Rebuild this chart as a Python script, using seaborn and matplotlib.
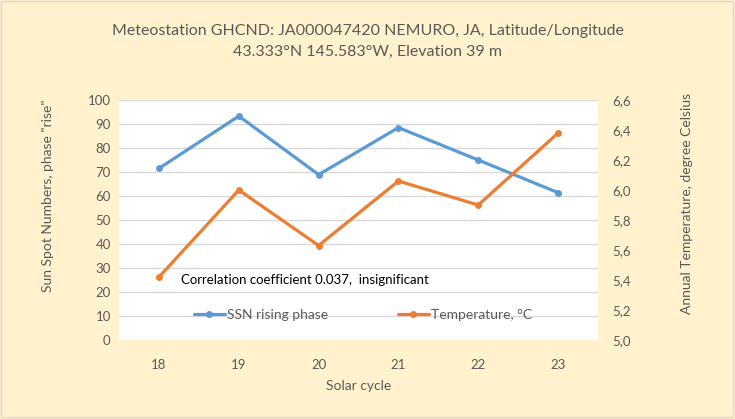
import matplotlib
matplotlib.use('Agg')
import matplotlib.pyplot as plt
import seaborn as sns
import pandas as pd

# Values
cycles = ['18', '19', '20', '21', '22', '23']
ssn_rise = [71.5, 93.3, 68.9, 88.5, 75.0, 61.4]
temperature = [5.42, 6.00, 5.63, 6.06, 5.90, 6.38]
left_ticks = list(range(0, 101, 10))
right_ticks = [5.0, 5.2, 5.4, 5.6, 5.8, 6.0, 6.2, 6.4, 6.6]

df = pd.DataFrame({'cycle': cycles, 'ssn': ssn_rise, 'temp': temperature})

sns.set_style('white')
plt.rcParams['font.family'] = ['Lato', 'DejaVu Sans']

bg = '#FFF2CC'
txt = '#595959'
blue = '#5B9BD5'
orange = '#ED7D31'

fig = plt.figure(figsize=(7.35, 4.19), dpi=100, facecolor=bg)
fig.patches.append(plt.Rectangle((0.001, 0.004), 0.996, 0.994, transform=fig.transFigure,
                                 fill=False, edgecolor='#D9D9D9', linewidth=1))
ax = fig.add_axes([0.162, 0.1885, 0.6516, 0.5728])
ax.set_facecolor('white')

sns.lineplot(data=df, x='cycle', y='ssn', ax=ax, color=blue, linewidth=2.3,
             marker='o', markersize=5, markeredgewidth=0, label='SSN rising phase', legend=False)
ax2 = ax.twinx()
sns.lineplot(data=df, x='cycle', y='temp', ax=ax2, color=orange, linewidth=2.3,
             marker='o', markersize=5, markeredgewidth=0, label='Temperature, °C', legend=False)

ax.set_xlim(-0.5, 5.5)
ax.set_ylim(0, 100)
ax.set_yticks(left_ticks)
ax2.set_ylim(5.0, 6.6)
ax2.set_yticks(right_ticks)
ax2.set_yticklabels([f'{v:.1f}'.replace('.', ',') for v in right_ticks])

ax.yaxis.grid(True, color='#D9D9D9', linewidth=1)
ax.set_axisbelow(True)
for a in (ax, ax2):
    for s in a.spines.values():
        s.set_visible(False)
    a.tick_params(length=0, labelsize=9.5, colors=txt)
ax.tick_params(axis='x', pad=14)
ax.tick_params(axis='y', pad=6)
ax2.tick_params(axis='y', pad=10)

ax.set_xlabel('Solar cycle', fontsize=10, color=txt, labelpad=6)
ax.set_ylabel('Sun Spot Numbers, phase "rise"', fontsize=10, color=txt, labelpad=24, y=0.6)
ax2.set_ylabel('Annual Temperature, degree Celsius', fontsize=10, color=txt, labelpad=36, y=0.57)

fig.text(0.5, 0.925, 'Meteostation GHCND: JA000047420 NEMURO, JA, Latitude/Longitude',
         ha='center', va='center', fontsize=11.5, color=txt)
fig.text(0.5, 0.877, '43.333°N 145.583°W, Elevation 39 m',
         ha='center', va='center', fontsize=11.5, color=txt)

ax.text(0.129, 0.25, 'Correlation coefficient 0.037,  insignificant', transform=ax.transAxes,
        ha='left', va='center', fontsize=9.5, color='black')

h1, l1 = ax.get_legend_handles_labels()
h2, l2 = ax2.get_legend_handles_labels()
ax2.legend(h1 + h2, l1 + l2, loc='center', bbox_to_anchor=(0.51, 0.104), ncol=2,
           frameon=False, fontsize=10, labelcolor=txt, columnspacing=5.0,
           handlelength=2.2, handletextpad=0.2)

fig.savefig('out.png', dpi=100, facecolor=bg)
